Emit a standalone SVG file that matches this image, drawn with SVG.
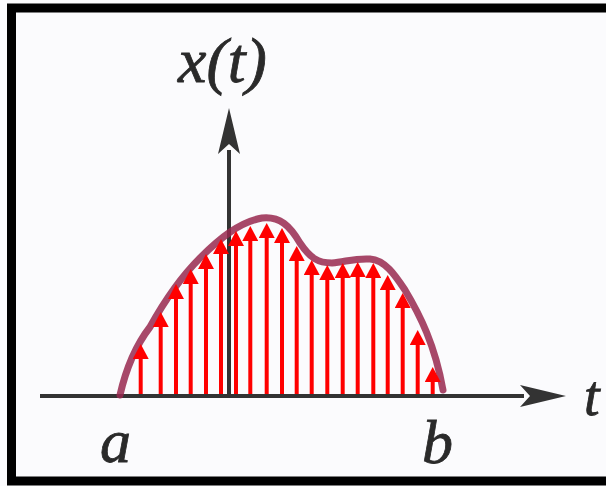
<svg xmlns="http://www.w3.org/2000/svg" width="606" height="486" viewBox="0 0 606 486">
  <defs>
    <style>
      .lbl { font-family: "Liberation Serif", "Times New Roman", serif; font-style: italic; fill: #2a2a2a; stroke: #2a2a2a; stroke-width: 0.8; }
      .axis { stroke: #333; stroke-width: 4; fill: none; }
      .stem { stroke: #ff0000; stroke-width: 4; marker-end: url(#ah); }
      .curve { stroke: #98284f; stroke-width: 7; fill: none; stroke-linecap: round; stroke-opacity: 0.85; }
    </style>
    <marker id="ah" viewBox="0 0 15 16" refX="0" refY="8" markerWidth="15" markerHeight="16" markerUnits="userSpaceOnUse" orient="auto">
      <path d="M0,0 L15,8 L0,16 z" fill="#ff0000"/>
    </marker>
    <marker id="axh" viewBox="0 0 46 22" refX="4" refY="11" markerWidth="46" markerHeight="22" markerUnits="userSpaceOnUse" orient="auto">
      <path d="M0,0 L46,11 L0,22 L10,11 z" fill="#333"/>
    </marker>
  </defs>
  <rect x="0" y="0" width="606" height="486" fill="#fbfbfd"/>
  <rect x="11.5" y="8" width="620" height="473" fill="none" stroke="#000" stroke-width="9"/>

  <g id="axes">
    <line class="axis" x1="40" y1="396" x2="524" y2="396" marker-end="url(#axh)"/>
    <line class="axis" x1="229" y1="396" x2="229" y2="150" marker-end="url(#axh)"/>
  </g>

  <g id="curve">
    <path class="curve" d="M120,395 C128,360 140,340 150,327 C165,300 180,278 200,258 C220,238 240,222 262,218 C280,216 290,226 300,243 C310,258 318,263 332,263 C345,262 355,258 370,259 C385,260 395,275 405,290 C420,315 435,345 443,390"/>
  </g>

  <g id="samples">
    <line class="stem" x1="140.7" y1="394" x2="140.7" y2="359"/>
    <line class="stem" x1="160.7" y1="394" x2="160.7" y2="327"/>
    <line class="stem" x1="176" y1="394" x2="176" y2="299"/>
    <line class="stem" x1="190.7" y1="394" x2="190.7" y2="284"/>
    <line class="stem" x1="206" y1="394" x2="206" y2="269"/>
    <line class="stem" x1="221" y1="394" x2="221" y2="254"/>
    <line class="stem" x1="236" y1="394" x2="236" y2="246"/>
    <line class="stem" x1="250.3" y1="394" x2="250.3" y2="241"/>
    <line class="stem" x1="266.7" y1="394" x2="266.7" y2="238"/>
    <line class="stem" x1="282" y1="394" x2="282" y2="243"/>
    <line class="stem" x1="296.7" y1="394" x2="296.7" y2="261"/>
    <line class="stem" x1="311.7" y1="394" x2="311.7" y2="275"/>
    <line class="stem" x1="327.3" y1="394" x2="327.3" y2="280"/>
    <line class="stem" x1="342.7" y1="394" x2="342.7" y2="278"/>
    <line class="stem" x1="357.7" y1="394" x2="357.7" y2="277"/>
    <line class="stem" x1="373.3" y1="394" x2="373.3" y2="278"/>
    <line class="stem" x1="387.7" y1="394" x2="387.7" y2="290"/>
    <line class="stem" x1="402.7" y1="394" x2="402.7" y2="308"/>
    <line class="stem" x1="417.7" y1="394" x2="417.7" y2="345"/>
    <line class="stem" x1="432.7" y1="394" x2="432.7" y2="382"/>
  </g>

  <g id="labels">
    <text class="lbl" x="178" y="82" font-size="64">x(t)</text>
    <text class="lbl" x="100" y="462" font-size="62">a</text>
    <text class="lbl" x="422" y="463" font-size="62">b</text>
    <text class="lbl" x="584" y="415" font-size="56">t</text>
  </g>
</svg>
